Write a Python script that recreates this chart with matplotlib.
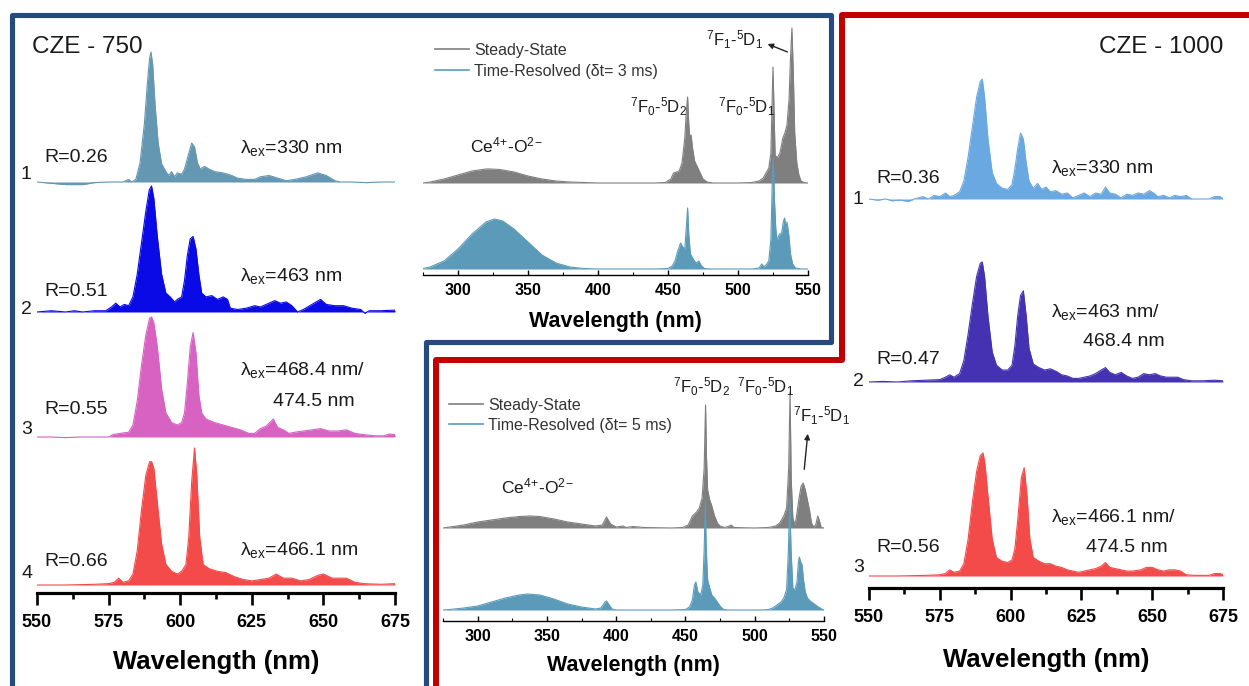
import matplotlib
matplotlib.use("Agg")
import matplotlib.pyplot as plt
from matplotlib.lines import Line2D
from matplotlib.ticker import MultipleLocator

plt.rcParams["font.family"] = ["Liberation Sans", "DejaVu Sans"]
plt.rcParams["mathtext.fontset"] = "custom"
plt.rcParams["mathtext.rm"] = "Liberation Sans"
plt.rcParams["mathtext.it"] = "Liberation Sans:italic"
plt.rcParams["mathtext.bf"] = "Liberation Sans:bold"

# ---- CZE-750 emission spectra (normalised intensity) ----
WL750_1 = [550, 555, 560, 566, 570, 575, 580, 582, 583, 584.5, 586, 587.5, 588.5, 589.3, 589.8, 590.4,
           591.2, 592.3, 593.5, 595, 596, 597, 598, 599, 600.5, 601.5, 603, 604, 605, 606, 607, 608.5,
           610, 612, 615, 618, 620, 623, 626, 628, 631, 634, 637, 640, 644, 648, 651, 654, 656, 660,
           665, 670, 675]
I750_1 = [0.0, -0.01, -0.02, -0.02, -0.005, 0.0, 0.0, 0.02, 0.0, 0.02, 0.15, 0.45, 0.75, 0.95, 1.0, 0.9,
          0.6, 0.3, 0.14, 0.08, 0.05, 0.08, 0.04, 0.07, 0.06, 0.1, 0.22, 0.3, 0.27, 0.15, 0.1, 0.12,
          0.1, 0.08, 0.07, 0.05, 0.03, 0.02, 0.02, 0.04, 0.05, 0.03, 0.01, 0.02, 0.04, 0.07, 0.05, 0.01,
          0.0, 0.0, -0.005, 0.0, 0.0]

WL750_2 = [550, 555, 560, 563, 566, 570, 574, 576, 577.5, 579, 580.5, 582, 583.5, 585, 586.5, 588,
           589.2, 590, 590.8, 592, 593.5, 595, 596.5, 598, 599, 600.5, 601.5, 602.5, 603.5, 604.5,
           605.5, 606.5, 607.5, 609, 611, 613, 615, 616.5, 617.5, 620, 623, 626, 628, 630, 633, 635,
           637, 639, 641, 643, 646, 649, 651, 654, 657, 660, 663, 664.5, 666, 670, 675]
I750_2 = [0.0, 0.01, 0.0, 0.01, 0.0, 0.01, 0.01, 0.04, 0.07, 0.04, 0.06, 0.05, 0.12, 0.3, 0.55, 0.8,
          0.97, 1.0, 0.9, 0.6, 0.3, 0.15, 0.12, 0.08, 0.1, 0.12, 0.25, 0.45, 0.58, 0.6,
          0.5, 0.3, 0.15, 0.12, 0.13, 0.1, 0.12, 0.1, 0.03, 0.02, 0.03, 0.05, 0.04, 0.06, 0.09, 0.07,
          0.08, 0.05, 0.0, 0.02, 0.06, 0.1, 0.06, 0.05, 0.05, 0.03, 0.02, -0.01, 0.01, 0.01, 0.015]

WL750_3 = [550, 555, 560, 565, 570, 575, 576.5, 579, 582, 583.5, 585, 586.5, 588, 589.3, 590, 590.8,
           592, 593.5, 595, 597, 599, 600.5, 601.5, 602.5, 603.5, 604.5, 605.5, 606.5, 607.5, 609,
           612, 615, 618, 621, 624, 626, 628, 630, 632.5, 634, 636, 638, 640, 643, 646, 649, 652,
           655, 658, 661, 664, 668, 671, 673, 675]
I750_3 = [0.0, 0.0, -0.005, 0.0, 0.0, 0.0, 0.02, 0.03, 0.04, 0.1, 0.3, 0.6, 0.85, 0.99, 1.0, 0.95,
          0.75, 0.4, 0.2, 0.12, 0.1, 0.12, 0.2, 0.45, 0.75, 0.87, 0.7, 0.35, 0.2, 0.15,
          0.12, 0.1, 0.08, 0.06, 0.03, 0.03, 0.07, 0.09, 0.15, 0.08, 0.06, 0.03, 0.04, 0.05, 0.06, 0.07, 0.05,
          0.05, 0.06, 0.03, 0.02, 0.01, 0.01, 0.025, 0.02]

WL750_4 = [550, 560, 570, 575, 577, 578.5, 580, 582, 583.5, 585, 586.5, 588, 589.3, 590, 590.8, 592,
           593.5, 595, 597, 599, 600.5, 602, 603, 604, 605, 605.8, 606.8, 608, 610, 613, 616, 619,
           622, 625, 628, 631, 633.5, 636, 639, 642, 645, 648, 650, 653, 656, 658, 661, 664, 670, 675]
I750_4 = [0.0, 0.0, 0.005, 0.01, 0.02, 0.05, 0.02, 0.03, 0.08, 0.25, 0.55, 0.8, 0.9, 0.9, 0.85, 0.6,
          0.3, 0.15, 0.1, 0.08, 0.1, 0.15, 0.35, 0.75, 1.0, 0.8, 0.35, 0.15, 0.12, 0.1, 0.09, 0.06,
          0.04, 0.03, 0.04, 0.05, 0.08, 0.05, 0.05, 0.03, 0.04, 0.07, 0.08, 0.05, 0.05, 0.05, 0.02, 0.01, 0.005, 0.01]

# ---- CZE-1000 emission spectra (normalised intensity) ----
WL1000_1 = [550, 553, 556, 558, 561, 564, 566, 569, 571, 573, 575, 577, 578.5, 580, 582, 583.5, 585,
            586.5, 588, 589.3, 590, 590.8, 592, 593.5, 595, 597, 599, 600.5, 601.5, 602.5, 603.5,
            604.5, 605.5, 606.5, 608, 609.5, 611, 612.5, 614, 616, 618, 620, 622, 624, 626, 628, 630,
            632, 633.5, 635, 637, 639, 641, 643, 645, 647, 649, 650.5, 652, 654, 656, 658, 660, 662,
            664, 667, 670, 672, 674, 675]
I1000_1 = [0.0, -0.01, 0.0, -0.015, -0.01, -0.02, 0.0, 0.02, 0.0, 0.03, 0.02, 0.05, 0.02, 0.03, 0.06, 0.15, 0.35,
           0.6, 0.85, 0.98, 1.0, 0.85, 0.5, 0.22, 0.13, 0.09, 0.08, 0.12, 0.25, 0.42, 0.55,
           0.5, 0.3, 0.15, 0.09, 0.13, 0.08, 0.1, 0.06, 0.07, 0.04, 0.05, 0.01, 0.03, 0.05, 0.02, 0.05,
           0.04, 0.1, 0.05, 0.04, 0.01, 0.04, 0.03, 0.05, 0.04, 0.07, 0.05, 0.02, 0.03, 0.01, 0.03, 0.02, 0.03,
           0.0, 0.0, 0.0, 0.02, 0.02, 0.0]

WL1000_2 = [550, 555, 560, 565, 570, 575, 577, 578.5, 580, 582, 583.5, 585, 586.5, 588, 589.3, 590,
            590.8, 592, 593.5, 595, 597, 599, 600.5, 601.5, 602.5, 603.5, 604.5, 605.5, 606.5, 608,
            610, 612, 614, 616, 618, 620, 622, 624, 626, 628, 630, 632, 633.5, 635, 637, 639, 641,
            643, 645, 647, 649, 651, 653, 655, 657, 659, 661, 664, 668, 672, 675]
I1000_2 = [0.0, 0.005, 0.0, 0.01, 0.015, 0.02, 0.04, 0.06, 0.04, 0.07, 0.18, 0.4, 0.65, 0.88, 0.99, 1.0,
           0.88, 0.55, 0.25, 0.14, 0.1, 0.1, 0.14, 0.3, 0.55, 0.72, 0.76, 0.55, 0.28, 0.15,
           0.12, 0.1, 0.11, 0.09, 0.06, 0.05, 0.03, 0.03, 0.04, 0.05, 0.07, 0.1, 0.12, 0.08, 0.06, 0.08, 0.05,
           0.03, 0.04, 0.07, 0.06, 0.07, 0.05, 0.04, 0.04, 0.04, 0.02, 0.01, 0.01, 0.015, 0.01]

WL1000_3 = [550, 560, 570, 575, 577, 578.5, 580, 582, 583.5, 585, 586.5, 588, 589.3, 590.3, 591, 592,
            593.5, 595, 597, 599, 600.5, 601.5, 602.5, 603.8, 604.8, 605.8, 606.8, 608, 610, 612, 614,
            616, 618, 620, 622, 624, 626, 628, 630, 632, 633.5, 635, 637, 639, 641, 643, 646, 648,
            650, 652, 654, 656, 658, 660, 662, 665, 670, 672, 674, 675]
I1000_3 = [0.0, 0.0, 0.005, 0.01, 0.02, 0.05, 0.03, 0.04, 0.1, 0.3, 0.6, 0.85, 0.98, 1.0, 0.9, 0.65,
           0.3, 0.15, 0.12, 0.11, 0.13, 0.22, 0.45, 0.8, 0.88, 0.65, 0.3, 0.15, 0.12, 0.1, 0.1,
           0.08, 0.07, 0.05, 0.04, 0.03, 0.04, 0.05, 0.06, 0.08, 0.11, 0.07, 0.06, 0.05, 0.04, 0.04, 0.05, 0.07,
           0.07, 0.05, 0.04, 0.05, 0.05, 0.04, 0.01, 0.005, 0.005, 0.02, 0.02, 0.01]

# ---- excitation spectra, delta t = 3 ms (a.u.) ----
EX3_SS_WL = [275, 280, 290, 300, 310, 320, 323, 330, 340, 350, 360, 370, 380, 390, 400, 440, 448, 452,
             454, 456, 458, 460, 462, 463, 464, 464.8, 465.5, 466.5, 467.5, 469, 471, 473, 475, 478,
             482, 500, 510, 515, 518, 520, 522, 523.5, 524.5, 525, 525.6, 526.5, 528, 530, 532, 533.5,
             535, 536.5, 537.5, 538.5, 539.5, 540.5, 542, 543.5, 545, 547, 550]
EX3_SS_I = [0, 1, 4, 8, 12, 14, 14, 13.5, 11, 7, 4, 2, 1, 0.5, 0, 0, 0.5, 4,
            10, 11, 12, 20, 45, 70, 86, 60, 46, 48, 35, 22, 16, 10, 4, 1,
            0, 0, 0.5, 2, 5, 10, 15, 30, 90, 116, 80, 28, 25, 30, 45, 50,
            58, 85, 125, 155, 110, 50, 20, 8, 2, 0.5, 0]
EX3_TR_WL = [275, 280, 290, 300, 310, 320, 326, 332, 340, 350, 360, 370, 380, 390, 400, 440, 450, 453,
             455, 457, 459, 460.5, 462, 463, 464, 464.8, 466, 468, 470, 472, 474, 476, 480, 510, 515,
             517, 518.5, 520, 522, 523.5, 524.5, 525.2, 526, 527, 528, 529.5, 531, 532.5, 533.3,
             534.2, 535, 536.2, 537.5, 539, 541, 545, 550]
EX3_TR_I = [0.5, 2, 8, 20, 35, 47, 50, 48, 40, 27, 14, 6, 2, 0.5, 0, 0, 0.5, 3,
            8, 18, 26, 22, 20, 40, 61, 35, 15, 10, 6, 8, 3, 0.5, 0, 0, 1,
            5, 2, 4, 8, 30, 90, 112, 70, 40, 28, 35, 35, 48, 51,
            40, 47, 35, 15, 5, 1, 0, 0]

# ---- excitation spectra, delta t = 5 ms (a.u.) ----
EX5_SS_WL = [275, 280, 290, 300, 310, 320, 330, 338, 345, 355, 365, 375, 385, 390, 393, 396, 400, 405,
             407, 412, 420, 440, 448, 452, 455, 458, 460, 462, 463.5, 464.5, 465.2, 466, 467.5, 469,
             471, 473, 475, 478, 481, 483, 485, 500, 510, 515, 518, 521, 523, 524.5, 525.5, 526.3,
             527.5, 529, 530, 532, 533.5, 535, 536.5, 538, 539.5, 541, 542.5, 544, 545.5, 546.5, 548, 550]
EX5_SS_I = [0, 1, 3, 6, 8, 10, 11.5, 12, 11.5, 9, 6, 4, 2, 3, 11, 4, 1, 2,
            0.5, 1.5, 0.5, 0, 0.5, 3, 12, 16, 20, 30, 60, 123, 70, 38, 28, 22,
            12, 5, 2, 0.5, 1.5, 3, 0.5, 0, 0.5, 2, 5, 12, 20, 60, 136, 50,
            10, 3, 10, 30, 42, 45, 38, 28, 18, 5, 1, 3, 12, 8, 0.5, 0]
EX5_TR_WL = [275, 280, 290, 300, 310, 320, 330, 336, 345, 355, 365, 375, 385, 389, 392, 393, 395, 397,
             400, 440, 450, 453, 455, 456.5, 457.5, 459, 461, 462.5, 463.5, 464.3, 465, 466, 467.5,
             469, 471, 473, 475, 477, 480, 505, 510, 513, 516, 519, 521, 523, 524.3, 525.3, 526.2,
             527.5, 529, 530.5, 531.5, 532.2, 533.2, 534.2, 535.2, 536.5, 538, 540, 543, 546, 549, 550]
EX5_TR_I = [0, 0.5, 2, 4, 8, 12, 15, 16, 15, 11, 6, 3, 1, 2, 8, 9, 5, 1,
            0, 0, 0.5, 3, 10, 25, 28, 18, 15, 25, 60, 108, 60, 30, 22,
            15, 12, 8, 4, 1, 0, 0, 0.5, 2, 5, 8, 12, 20, 60, 112, 60,
            22, 20, 28, 48, 53, 48, 45, 30, 18, 12, 9, 6, 3, 0.5, 0]

R750 = ["R=0.26", "R=0.51", "R=0.55", "R=0.66"]
EX750 = [r"λ$_{\mathregular{ex}}$=330 nm", r"λ$_{\mathregular{ex}}$=463 nm",
         r"λ$_{\mathregular{ex}}$=468.4 nm/", r"λ$_{\mathregular{ex}}$=466.1 nm"]
R1000 = ["R=0.36", "R=0.47", "R=0.56"]
EX1000 = [r"λ$_{\mathregular{ex}}$=330 nm", r"λ$_{\mathregular{ex}}$=463 nm/",
          r"λ$_{\mathregular{ex}}$=466.1 nm/"]

W, H = 1249, 686
fig = plt.figure(figsize=(W / 100, H / 100), dpi=100)
fig.patch.set_facecolor("white")


def fx(x):
    return x / W


def fy(y):
    return 1 - y / H


def add_panel(x0, x1, ytop, yaxis):
    ax = fig.add_axes([fx(x0), fy(yaxis), fx(x1 - x0), (yaxis - ytop) / H])
    ax.set_ylim(0, yaxis - ytop)
    ax.patch.set_alpha(0)
    for s in ["left", "right", "top"]:
        ax.spines[s].set_visible(False)
    ax.set_yticks([])
    return ax


def style_big(ax, labelpad):
    ax.set_xlim(550, 675)
    ax.xaxis.set_major_locator(MultipleLocator(25))
    ax.xaxis.set_minor_locator(MultipleLocator(12.5))
    ax.spines["bottom"].set_linewidth(2.3)
    ax.tick_params(axis="x", which="major", direction="out", length=8.5, width=1.9, pad=6.5)
    ax.tick_params(axis="x", which="minor", direction="out", length=4.5, width=1.9)
    for t in ax.get_xticklabels():
        t.set_fontweight("bold")
        t.set_fontsize(13)
    ax.set_xlabel("Wavelength (nm)", fontsize=18.5, fontweight="bold", labelpad=labelpad)


def style_small(ax, labelpad):
    ax.set_xlim(275, 550)
    ax.xaxis.set_major_locator(MultipleLocator(50))
    ax.xaxis.set_minor_locator(MultipleLocator(25))
    ax.spines["bottom"].set_linewidth(1.0)
    ax.tick_params(axis="x", which="major", direction="in", length=3.5, width=1.0, pad=5.5)
    ax.tick_params(axis="x", which="minor", direction="in", length=2.0, width=0.8)
    for t in ax.get_xticklabels():
        t.set_fontweight("bold")
        t.set_fontsize(11.5)
    ax.set_xlabel("Wavelength (nm)", fontsize=15.5, fontweight="bold", labelpad=labelpad)


def stack(ax, wl, inten, off, scale, color):
    y = [off + scale * v for v in inten]
    ax.fill_between(wl, off, y, color=color, lw=0)
    ax.plot(wl, y, color=color, lw=0.8)


def txt(x, y, s, size, **kw):
    kw.setdefault("va", "center")
    fig.text(fx(x), fy(y), s, fontsize=size, color="#1a1a1a", **kw)


# left panel: CZE-750
axL = add_panel(37, 395, 30, 593)
style_big(axL, 13.5)
for wl, inten, off, sc, col in zip([WL750_1, WL750_2, WL750_3, WL750_4],
                                    [I750_1, I750_2, I750_3, I750_4],
                                    [411, 281, 156, 8], [130, 126, 120, 137],
                                    ["#6497b1", "#0a0ae6", "#d762c2", "#f34a4a"]):
    stack(axL, wl, inten, off, sc, col)

txt(32, 47, "CZE - 750", 17.5)
for i, (yn, yr, ye) in enumerate([(175, 157, 148), (309, 292, 276), (429, 410, 370), (574, 562, 550)]):
    txt(21, yn, str(i + 1), 14)
    txt(44, yr, R750[i], 14)
    txt(240, ye, EX750[i], 14)
txt(273, 402, "474.5 nm", 14)

# right panel: CZE-1000
axR = add_panel(869, 1223, 30, 588)
style_big(axR, 16)
for wl, inten, off, sc, col in zip([WL1000_1, WL1000_2, WL1000_3],
                                    [I1000_1, I1000_2, I1000_3],
                                    [389, 206, 12], [120, 120, 123],
                                    ["#6aa8e2", "#4432b2", "#f34a4a"]):
    stack(axR, wl, inten, off, sc, col)

txt(1223, 47, "CZE - 1000", 17.5, ha="right")
for i, (yn, yr, ye) in enumerate([(199, 179, 168), (381, 360, 312), (568, 547, 517)]):
    txt(853, yn, str(i + 1), 14)
    txt(876, yr, R1000[i], 14)
    txt(1051, ye, EX1000[i], 14)
txt(1083, 342, "468.4 nm", 14)
txt(1086, 547, "474.5 nm", 14)

# middle panels: steady-state vs time-resolved excitation
GRAY = "#7f7f7f"
TEAL = "#5b9bb9"
F01 = r"$^{7}$F$_{0}$-$^{5}$D$_{1}$"
F02 = r"$^{7}$F$_{0}$-$^{5}$D$_{2}$"
F11 = r"$^{7}$F$_{1}$-$^{5}$D$_{1}$"
CEO = r"Ce$^{4}$$^{+}$-O$^{2}$$^{-}$"

axT = add_panel(423, 808, 20, 275)
style_small(axT, 9.5)
stack(axT, EX3_SS_WL, EX3_SS_I, 92, 1.0, GRAY)
stack(axT, EX3_TR_WL, EX3_TR_I, 6, 1.0, TEAL)
handles = [Line2D([], [], color=GRAY, lw=1.2), Line2D([], [], color=TEAL, lw=1.2)]
axT.legend(handles, ["Steady-State", "Time-Resolved (δt= 3 ms)"], loc="upper left",
           bbox_to_anchor=(fx(435), fy(43)), bbox_transform=fig.transFigure, frameon=False,
           fontsize=11.5, borderpad=0, borderaxespad=0, handlelength=2.1, handletextpad=0.35,
           labelspacing=0.35, labelcolor="#333333")
txt(630, 113, F02, 12, va="baseline")
txt(718, 113, F01, 12, va="baseline")
txt(706, 46, F11, 12, va="baseline")
txt(470, 152, CEO, 12.5, va="baseline")
axT.annotate("", xy=(fx(765), fy(43)), xycoords="figure fraction",
             xytext=(fx(790), fy(53)), textcoords="figure fraction",
             arrowprops=dict(arrowstyle="-|>", color="#222222", lw=1.0, mutation_scale=8))

axB = add_panel(443, 824, 365, 621)
style_small(axB, 8)
stack(axB, EX5_SS_WL, EX5_SS_I, 93, 1.0, GRAY)
stack(axB, EX5_TR_WL, EX5_TR_I, 11, 1.0, TEAL)
handles = [Line2D([], [], color=GRAY, lw=1.2), Line2D([], [], color=TEAL, lw=1.2)]
axB.legend(handles, ["Steady-State", "Time-Resolved (δt= 5 ms)"], loc="upper left",
           bbox_to_anchor=(fx(449), fy(398)), bbox_transform=fig.transFigure, frameon=False,
           fontsize=11.5, borderpad=0, borderaxespad=0, handlelength=2.1, handletextpad=0.35,
           labelspacing=0.3, labelcolor="#333333")
txt(673, 393, F02, 12, va="baseline")
txt(737, 393, F01, 12, va="baseline")
txt(793, 422, F11, 12, va="baseline")
txt(501, 493, CEO, 12.5, va="baseline")
axB.annotate("", xy=(fx(808), fy(431)), xycoords="figure fraction",
             xytext=(fx(804), fy(472)), textcoords="figure fraction",
             arrowprops=dict(arrowstyle="-|>", color="#222222", lw=1.0, mutation_scale=8))

# frames
blue = [(12, 700), (12, 14.5), (830.5, 14.5), (830.5, 342), (425.5, 342), (425.5, 700)]
red = [(436, 700), (436, 360), (842.5, 360), (842.5, 14.5), (1260, 14.5)]
for pts, col, lw in [(blue, "#27497b", 3.7), (red, "#c00000", 4.3)]:
    fig.add_artist(Line2D([fx(p[0]) for p in pts], [fy(p[1]) for p in pts], color=col, lw=lw,
                          solid_joinstyle="round", transform=fig.transFigure, zorder=10))

fig.savefig("out.png", dpi=100, facecolor="white")
